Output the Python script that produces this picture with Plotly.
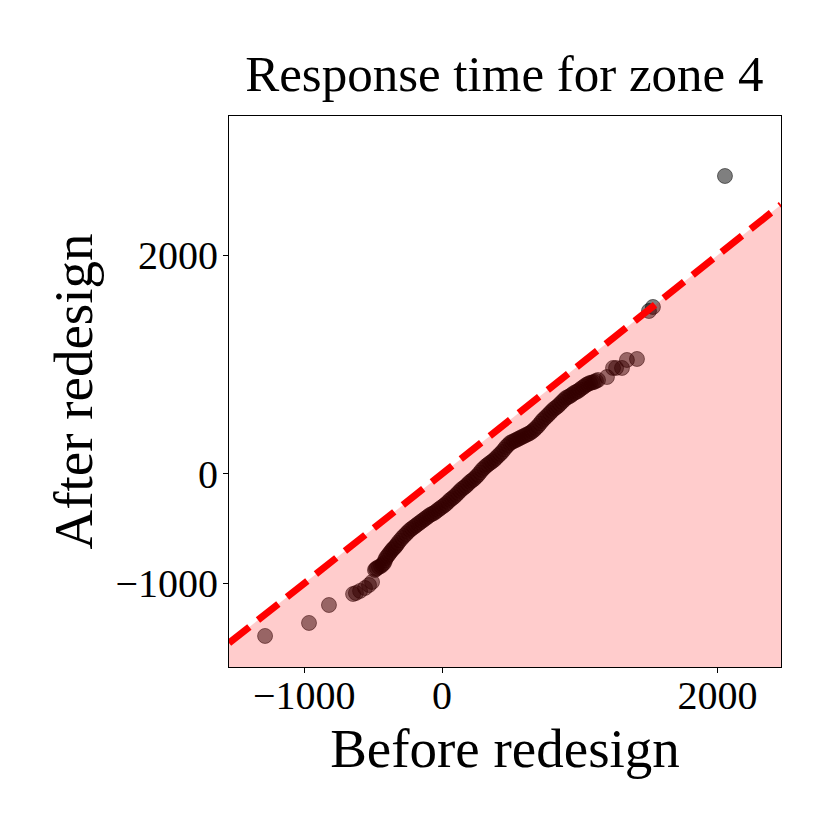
import plotly.graph_objects as go

# quantiles (sorted)
before = [-1285, -966, -821, -646, -625, -595, -559, -530, -508, -487,
          -480, -472, -458, -443, -432, -421, -414, -407, -396, -385,
          -374, -363, -352, -341, -330, -320, -305, -290, -276, -261,
          -247, -232, -218, -203, -189, -174, -160, -145, -131, -116,
          -102, -87, -73, -58, -44, -29, -15, 0, 15, 29,
          44, 58, 73, 87, 102, 116, 131, 145, 160, 174,
          189, 203, 218, 232, 247, 261, 276, 290, 305, 320,
          334, 349, 363, 378, 392, 407, 422, 436, 451, 465,
          480, 494, 508, 523, 538, 552, 566, 581, 596, 610,
          625, 639, 654, 668, 682, 697, 712, 726, 740, 755,
          770, 784, 798, 813, 828, 842, 856, 871, 886, 900,
          915, 930, 944, 959, 974, 988, 1002, 1017, 1032, 1046,
          1060, 1075, 1090, 1104, 1118, 1133, 1198, 1242, 1264, 1307,
          1343, 1416, 1503, 1532, 2055]
after = [-1482, -1363, -1199, -1098, -1089, -1070, -1043, -1016, -988, -878,
         -869, -860, -851, -842, -828, -814, -791, -769, -750, -732,
         -714, -695, -681, -668, -650, -631, -608, -586, -567, -549,
         -530, -512, -498, -485, -471, -457, -443, -430, -416, -403,
         -389, -375, -366, -357, -343, -329, -315, -302, -288, -274,
         -256, -238, -224, -210, -192, -174, -155, -137, -124, -110,
         -91, -73, -59, -46, -27, -9, 14, 37, 55, 73,
         87, 101, 114, 128, 146, 165, 183, 201, 224, 247,
         265, 284, 293, 302, 311, 320, 329, 339, 348, 357,
         366, 375, 389, 403, 421, 439, 462, 485, 503, 521,
         540, 558, 576, 595, 608, 622, 640, 659, 677, 695,
         704, 714, 727, 741, 750, 759, 773, 787, 800, 814,
         823, 833, 837, 842, 851, 860, 887, 970, 970, 970,
         1043, 1052, 1491, 1528, 2726]

x_range = [-1547, 2462]
y_range = [-1766, 3275]
tick_vals = [-1000, 0, 2000]
tick_text = ["\u22121000", "0", "2000"]

FONT = "Liberation Serif"

fig = go.Figure()

fig.add_trace(go.Scatter(
    x=before, y=after, mode="markers",
    marker=dict(size=15, color="rgba(0,0,0,0.5)",
                line=dict(width=1, color="rgba(0,0,0,0.5)")),
    showlegend=False, hoverinfo="skip"
))

# shaded region under y = x
fig.add_trace(go.Scatter(
    x=[x_range[0], x_range[1], x_range[1], x_range[0]],
    y=[x_range[0], x_range[1], y_range[0], y_range[0]],
    fill="toself", fillcolor="rgba(255,0,0,0.2)",
    mode="none", showlegend=False, hoverinfo="skip"
))

# y = x reference line
fig.add_trace(go.Scatter(
    x=x_range, y=x_range, mode="lines",
    line=dict(color="red", width=7, dash="26px,11px"),
    showlegend=False, hoverinfo="skip"
))

axis_common = dict(
    showline=True, linecolor="black", linewidth=1, mirror=True,
    showgrid=False, zeroline=False,
    ticks="outside", ticklen=5, tickcolor="black", tickwidth=1,
    tickvals=tick_vals, ticktext=tick_text,
    tickfont=dict(family=FONT, size=40, color="black"),
)

fig.update_layout(
    width=830, height=830,
    paper_bgcolor="white", plot_bgcolor="white",
    margin=dict(l=221, r=57, t=108, b=171),
    title=dict(text="Response time for zone 4", x=0.598, xanchor="center",
               y=0.922, yref="container", yanchor="middle",
               font=dict(family=FONT, size=51, color="black")),
    xaxis=dict(range=x_range, ticklabelstandoff=-12,
               title=dict(text="Before redesign", standoff=0,
                          font=dict(family=FONT, size=55, color="black")),
               **axis_common),
    yaxis=dict(range=y_range, ticklabelstandoff=-3,
               title=dict(text="After redesign", standoff=5,
                          font=dict(family=FONT, size=55, color="black")),
               **axis_common),
)

fig.write_html("out.html")
